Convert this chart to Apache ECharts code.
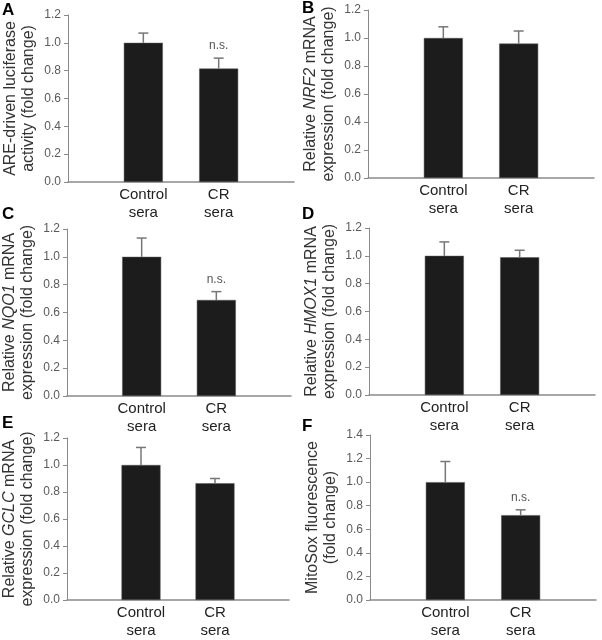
<!DOCTYPE html>
<html>
<head>
<meta charset="utf-8">
<script src="https://cdn.jsdelivr.net/npm/echarts@6/dist/echarts.min.js"></script>
<style>
html,body{margin:0;padding:0;background:#fff;}
#chart{width:602px;height:640px;}
</style>
</head>
<body>
<div id="chart"></div>
<script>
// ---- data ----
const categories = ['Control\nsera', 'CR\nsera'];
const panelLetters = ['A', 'B', 'C', 'D', 'E', 'F'];
const yTitles = [
  'ARE-driven luciferase\nactivity (fold change)',
  'Relative {i|NRF2} mRNA\nexpression (fold change)',
  'Relative {i|NQO1} mRNA\nexpression (fold change)',
  'Relative {i|HMOX1} mRNA\nexpression (fold change)',
  'Relative {i|GCLC} mRNA\nexpression (fold change)',
  'MitoSox fluorescence\n(fold change)'
];
const yMax = [1.2, 1.2, 1.2, 1.2, 1.2, 1.4];
const controlMean = [1.0, 1.0, 1.0, 1.0, 1.0, 1.0];
const controlErr = [0.07, 0.08, 0.135, 0.10, 0.13, 0.175];
const crMean = [0.815, 0.96, 0.69, 0.99, 0.865, 0.72];
const crErr = [0.075, 0.09, 0.06, 0.05, 0.035, 0.045];
const crNote = ['n.s.', '', 'n.s.', '', '', 'n.s.'];

// ---- layout ----
const FONT = '"Liberation Sans", Arial, sans-serif';
const grids = [
  {left: 68, top: 15, width: 226, height: 167},
  {left: 368, top: 10, width: 226, height: 168},
  {left: 65, top: 229, width: 226, height: 167},
  {left: 369, top: 228, width: 226, height: 167},
  {left: 65, top: 438, width: 224, height: 168},
  {left: 370, top: 435, width: 226, height: 168}
];
const letterPos = [[2, 2], [302, 0], [2, 206], [302, 206], [2, 415], [302, 418]];

const axisCats = [''].concat(categories, ['']);

const option = {
  animation: false,
  backgroundColor: '#fff',
  textStyle: {fontFamily: FONT},
  title: panelLetters.map((t, i) => ({
    text: t, left: letterPos[i][0], top: letterPos[i][1], padding: 0,
    textStyle: {fontSize: 17, fontWeight: 'bold', color: '#000', fontFamily: FONT}
  })),
  grid: grids.map(g => Object.assign({containLabel: false}, g)),
  xAxis: grids.map((g, i) => ({
    type: 'category', gridIndex: i, data: axisCats, boundaryGap: false,
    axisLine: {lineStyle: {color: '#8a8a8a', width: 1.5}},
    axisTick: {show: false},
    axisLabel: {interval: 0, fontSize: 15, color: '#222', lineHeight: 18, margin: 4, fontFamily: FONT},
    splitLine: {show: false}
  })),
  yAxis: grids.map((g, i) => ({
    type: 'value', gridIndex: i, min: 0, max: yMax[i], interval: 0.2,
    name: yTitles[i], nameLocation: 'middle', nameGap: 30, nameRotate: 90,
    nameTextStyle: {
      fontSize: 16, color: '#333', lineHeight: 18, fontFamily: FONT,
      rich: {i: {fontStyle: 'italic', fontSize: 16, color: '#333', lineHeight: 18, fontFamily: FONT}}
    },
    axisLine: {show: true, lineStyle: {color: '#8a8a8a', width: 1}},
    axisTick: {show: true, length: 4, lineStyle: {color: '#8a8a8a'}},
    axisLabel: {fontSize: 12, color: '#5a5a5a', margin: 7, fontFamily: FONT,
      formatter: v => v.toFixed(1)},
    splitLine: {show: false}
  })),
  series: []
};

grids.forEach((g, i) => {
  option.series.push({
    type: 'bar', xAxisIndex: i, yAxisIndex: i, barWidth: 39,
    data: ['-', controlMean[i], crMean[i], '-'],
    itemStyle: {color: '#1c1c1c', borderColor: '#555', borderWidth: 0.5},
    silent: true
  });
  const notes = ['', crNote[i]];
  option.series.push({
    type: 'custom', xAxisIndex: i, yAxisIndex: i, silent: true, z: 5,
    data: [[1, controlMean[i], controlErr[i]], [2, crMean[i], crErr[i]]],
    renderItem: function (params, api) {
      const x = api.value(0), m = api.value(1), e = api.value(2);
      const p0 = api.coord([x, m]);
      const p1 = api.coord([x, m + e]);
      const half = 5;
      const style = {stroke: '#777', lineWidth: 1.5};
      const children = [
        {type: 'line', shape: {x1: p0[0], y1: p0[1], x2: p1[0], y2: p1[1]}, style: style},
        {type: 'line', shape: {x1: p1[0] - half, y1: p1[1], x2: p1[0] + half, y2: p1[1]}, style: style}
      ];
      const note = notes[params.dataIndex];
      if (note) {
        children.push({type: 'text', x: p1[0], y: p1[1] - 12,
          style: {text: note, fontSize: 12, fill: '#555', align: 'center', verticalAlign: 'middle', fontFamily: FONT}});
      }
      return {type: 'group', children: children};
    }
  });
});

const chart = echarts.init(document.getElementById('chart'), null, {renderer: 'canvas'});
chart.setOption(option);
</script>
</body>
</html>
